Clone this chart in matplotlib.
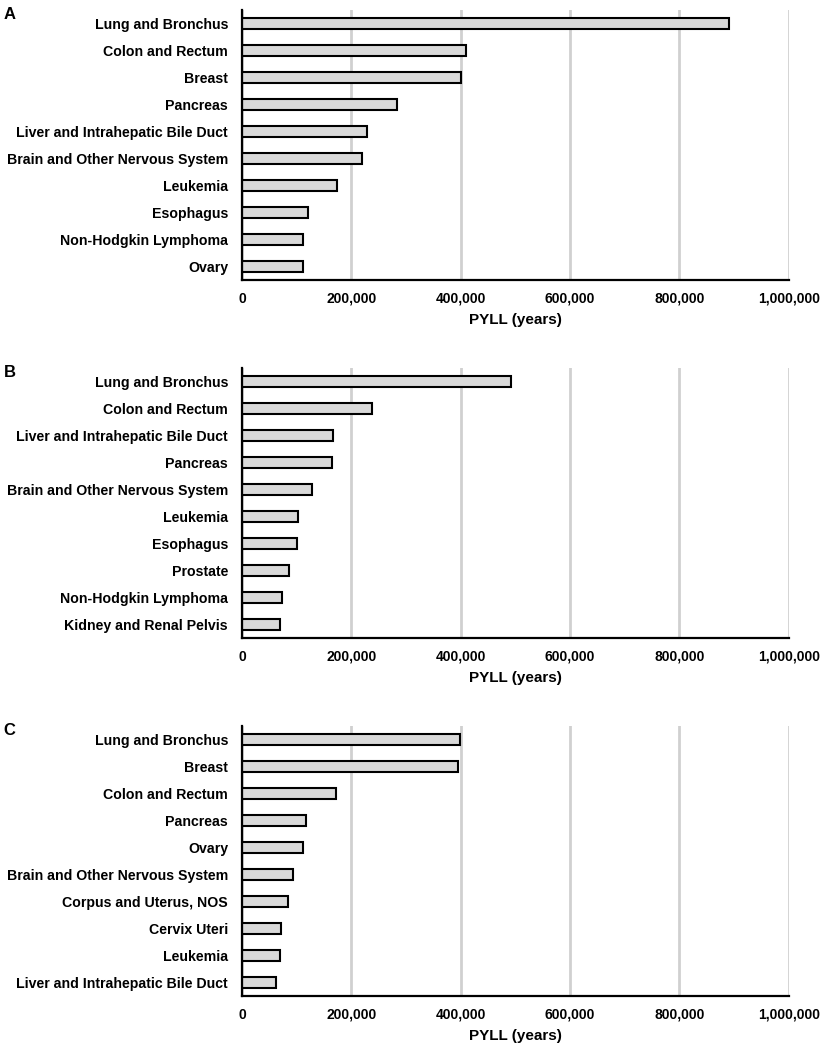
import matplotlib.pyplot as plt
from matplotlib.ticker import FuncFormatter

plt.rcParams['font.family'] = ['Liberation Sans', 'DejaVu Sans']
plt.rcParams['font.weight'] = 'bold'

# Panel A - all
sitesA = ['Lung and Bronchus', 'Colon and Rectum', 'Breast', 'Pancreas',
          'Liver and Intrahepatic Bile Duct', 'Brain and Other Nervous System',
          'Leukemia', 'Esophagus', 'Non-Hodgkin Lymphoma', 'Ovary']
pyllA = [891000, 410000, 400000, 283000, 229000, 220000, 173000, 120000, 112000, 112000]

# Panel B - male
sitesB = ['Lung and Bronchus', 'Colon and Rectum', 'Liver and Intrahepatic Bile Duct',
          'Pancreas', 'Brain and Other Nervous System', 'Leukemia', 'Esophagus',
          'Prostate', 'Non-Hodgkin Lymphoma', 'Kidney and Renal Pelvis']
pyllB = [492000, 237000, 166000, 164000, 128000, 103000, 101000, 86000, 73000, 70000]

# Panel C - female
sitesC = ['Lung and Bronchus', 'Breast', 'Colon and Rectum', 'Pancreas', 'Ovary',
          'Brain and Other Nervous System', 'Corpus and Uterus, NOS', 'Cervix Uteri',
          'Leukemia', 'Liver and Intrahepatic Bile Duct']
pyllC = [399000, 395000, 172000, 118000, 112000, 93000, 84000, 72000, 70000, 62000]

panels = [('A', sitesA, pyllA, 0.7333), ('B', sitesB, pyllB, 0.3924), ('C', sitesC, pyllC, 0.0514)]

fig = plt.figure(figsize=(8.25, 10.5), dpi=100)

def configPanel(ax, letter, sites, vals):
    ypos = list(range(len(sites)))
    ax.barh(ypos, vals, height=0.42, color='#d9d9d9', edgecolor='black', linewidth=1.5, zorder=3)
    ax.set_yticks(ypos)
    ax.set_yticklabels(sites, fontsize=10.2, fontweight='bold')
    ax.set_ylim(len(sites) - 0.5, -0.5)
    ax.set_xlim(0, 1000000)
    ax.set_xticks(range(0, 1000001, 200000))
    ax.xaxis.set_major_formatter(FuncFormatter(lambda v, p: '{:,.0f}'.format(v)))
    ax.tick_params(axis='both', length=0)
    ax.tick_params(axis='y', pad=10, labelsize=10.2)
    ax.tick_params(axis='x', pad=8.5, labelsize=10)
    ax.grid(axis='x', color='#d0d0d0', linewidth=2, zorder=0)
    ax.set_axisbelow(True)
    for s in ['top', 'right']:
        ax.spines[s].set_visible(False)
    for s in ['left', 'bottom']:
        ax.spines[s].set_linewidth(1.6)
        ax.spines[s].set_zorder(4)
    ax.set_xlabel('PYLL (years)', fontsize=11, fontweight='bold', labelpad=5)
    ax.text(-0.436, 0.985, letter, transform=ax.transAxes, fontsize=12, fontweight='bold',
            ha='left', va='center')

for letter, sites, vals, bottom in panels:
    ax = fig.add_axes([0.2933, bottom, 0.6627, 0.2571])
    configPanel(ax, letter, sites, vals)

fig.savefig('out.png', dpi=100)
